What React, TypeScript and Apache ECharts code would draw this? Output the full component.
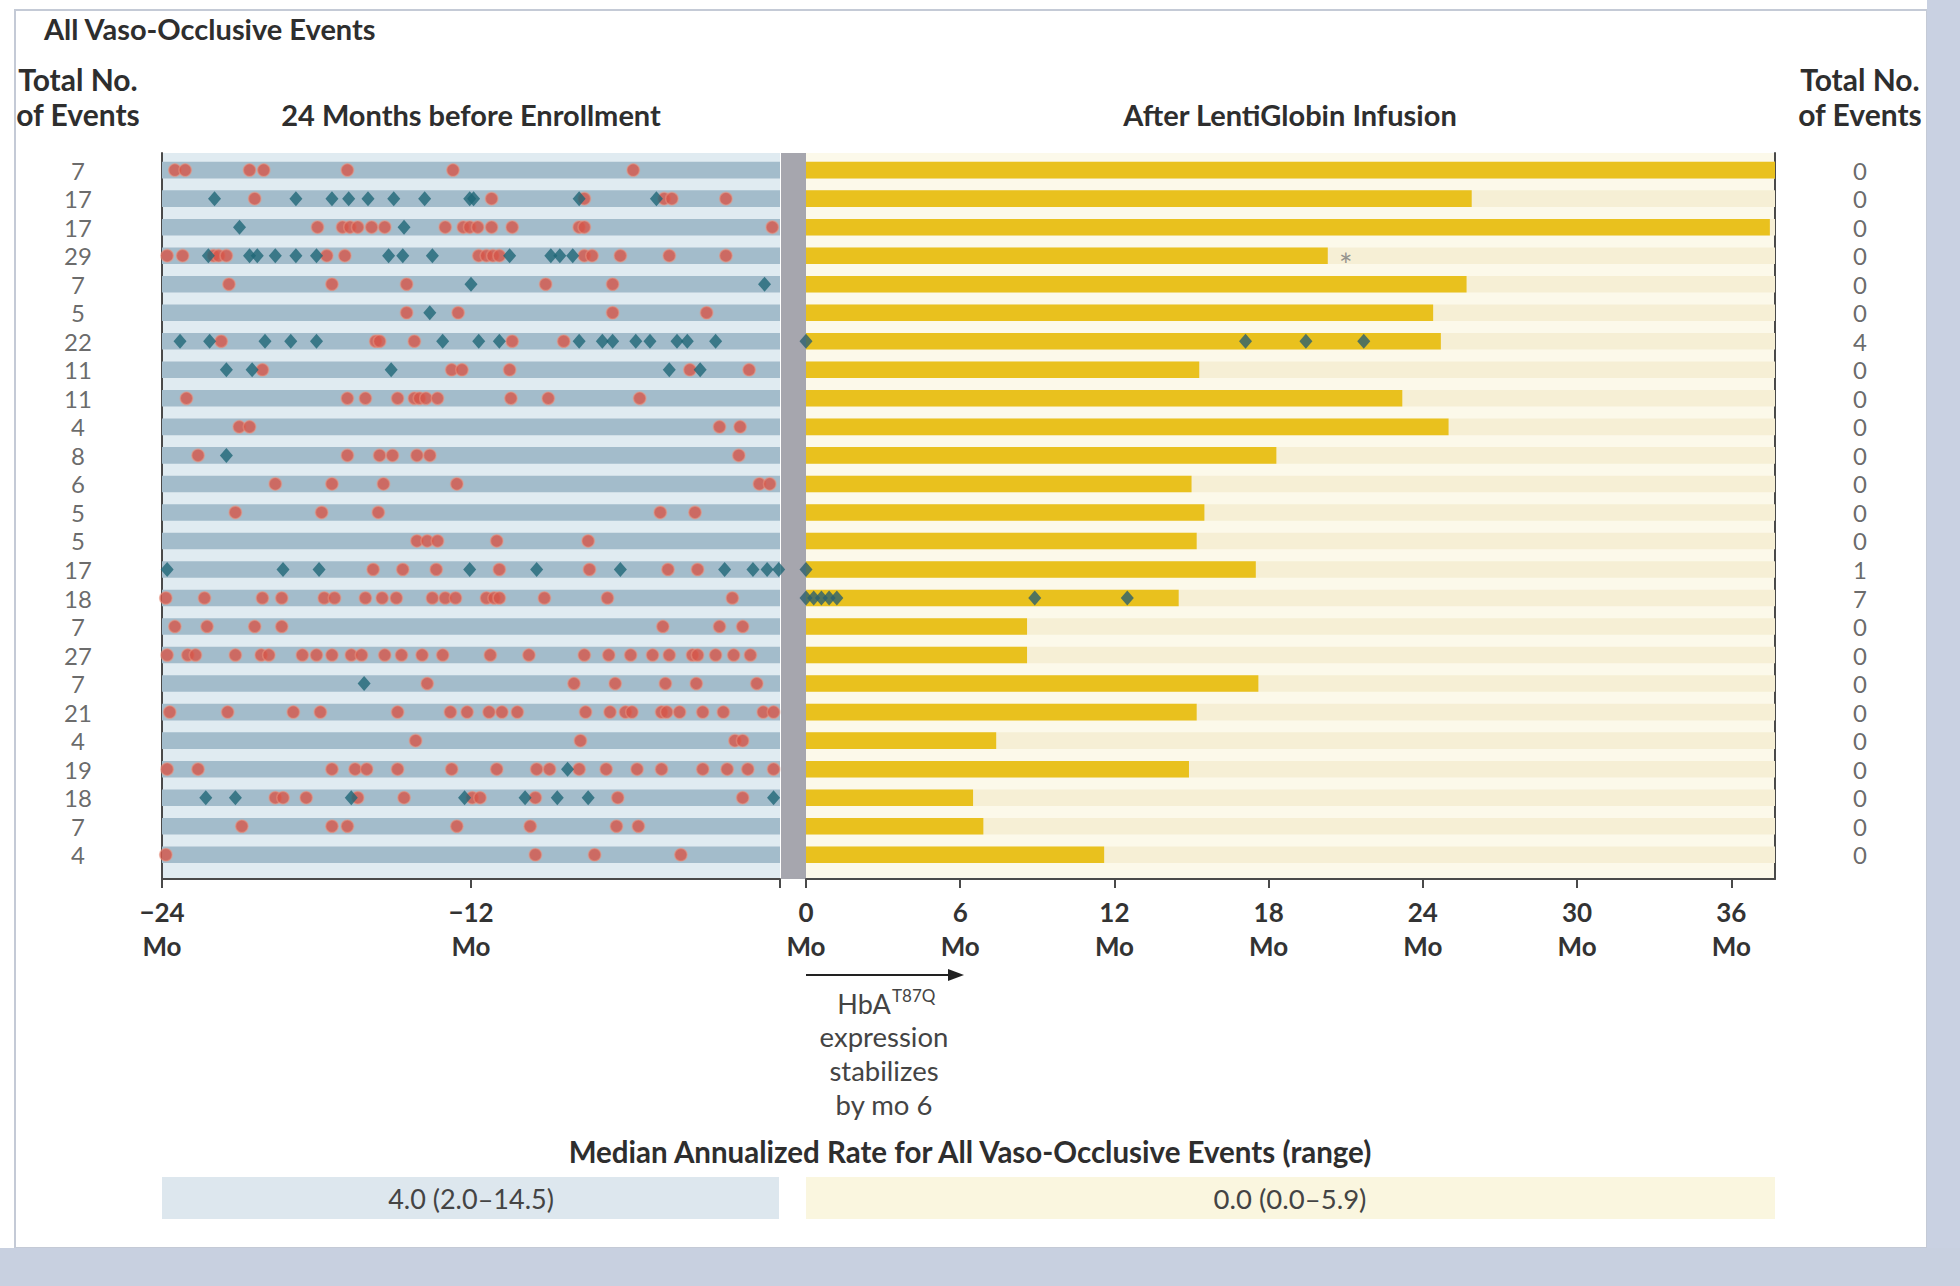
import React, { useEffect, useRef } from "react";
import * as echarts from "echarts";

// ---------- DATA ----------
const totalsBefore = [7, 17, 17, 29, 7, 5, 22, 11, 11, 4, 8, 6, 5, 5, 17, 18, 7, 27, 7, 21, 4, 19, 18, 7, 4];
const totalsAfter = [0, 0, 0, 0, 0, 0, 4, 0, 0, 0, 0, 0, 0, 0, 1, 7, 0, 0, 0, 0, 0, 0, 0, 0, 0];
// months of follow-up after LentiGlobin infusion (yellow bars)
const followUpMonths = [37.7, 25.9, 37.5, 20.3, 25.7, 24.4, 24.7, 15.3, 23.2, 25.0, 18.3, 15.0, 15.5, 15.2, 17.5, 14.5, 8.6, 8.6, 17.6, 15.2, 7.4, 14.9, 6.5, 6.9, 11.6];
// red circles: vaso-occlusive events in the 24 months before enrollment (months)
const redBefore: number[][] = [
  [-23.5, -23.1, -20.6, -20.05, -16.8, -12.7, -5.7],
  [-20.4, -11.2, -7.6, -4.5, -4.2, -2.1],
  [-17.96, -16.99, -16.7, -16.4, -15.86, -15.35, -13.0, -12.3, -12.05, -11.74, -11.2, -10.4, -7.8, -7.6, -0.3],
  [-23.8, -23.2, -22.0, -21.8, -21.5, -17.6, -16.9, -11.7, -11.4, -11.15, -10.9, -7.6, -7.3, -6.2, -4.3, -2.1],
  [-21.4, -17.4, -14.5, -9.1, -6.5],
  [-14.5, -12.5, -6.5, -2.85],
  [-21.7, -15.7, -15.55, -14.2, -10.4, -8.4],
  [-20.1, -12.75, -12.35, -10.5, -3.5, -1.2],
  [-23.05, -16.8, -16.1, -14.85, -14.2, -14.0, -13.75, -13.3, -10.45, -9.0, -5.45],
  [-21.0, -20.6, -2.35, -1.55],
  [-22.6, -16.8, -15.55, -15.05, -14.1, -13.6, -1.6],
  [-19.6, -17.4, -15.4, -12.55, -0.8, -0.4],
  [-21.15, -17.8, -15.6, -4.65, -3.3],
  [-14.1, -13.7, -13.3, -11.0, -7.45],
  [-15.8, -14.65, -13.35, -10.9, -7.4, -4.35, -3.2],
  [-23.85, -22.35, -20.1, -19.35, -17.7, -17.3, -16.1, -15.45, -14.9, -13.5, -13.0, -12.6, -11.4, -11.1, -10.9, -9.15, -6.7, -1.85],
  [-23.5, -22.25, -20.4, -19.35, -4.55, -2.35, -1.45],
  [-23.8, -23.0, -22.7, -21.15, -20.15, -19.85, -18.55, -18.0, -17.4, -16.65, -16.25, -15.35, -14.7, -13.9, -13.1, -11.25, -9.75, -7.6, -6.65, -5.8, -4.95, -4.3, -3.4, -3.2, -2.5, -1.8, -1.15],
  [-13.7, -8.0, -6.4, -4.45, -3.25, -0.9],
  [-23.7, -21.45, -18.9, -17.85, -14.85, -12.8, -12.15, -11.3, -10.8, -10.2, -7.55, -6.6, -6.0, -5.75, -4.6, -4.4, -3.9, -3.0, -2.2, -0.65, -0.25],
  [-14.15, -7.75, -1.75, -1.45],
  [-23.8, -22.6, -17.4, -16.5, -16.05, -14.85, -12.75, -11.0, -9.45, -8.95, -7.8, -6.75, -5.55, -4.6, -3.0, -2.05, -1.25, -0.25],
  [-19.6, -19.3, -18.4, -16.4, -14.6, -11.95, -11.65, -9.5, -6.3, -1.45],
  [-20.9, -17.4, -16.8, -12.55, -9.7, -6.35, -5.5],
  [-23.85, -9.5, -7.2, -3.85],
];
// teal diamonds before enrollment (months)
const tealBefore: number[][] = [
  [],
  [-21.96, -18.8, -17.4, -16.75, -16.0, -15.0, -13.8, -12.05, -11.9, -7.8, -4.8],
  [-20.99, -14.6],
  [-22.2, -20.6, -20.3, -19.6, -18.8, -18.0, -15.2, -14.65, -13.5, -10.5, -8.9, -8.55, -8.05],
  [-12.0, -0.6],
  [-13.6],
  [-23.3, -22.15, -20.0, -19.0, -18.0, -13.1, -11.7, -10.9, -7.8, -6.9, -6.5, -5.6, -5.05, -4.0, -3.6, -2.5],
  [-21.5, -20.5, -15.1, -4.3, -3.1],
  [],
  [],
  [-21.5],
  [],
  [],
  [],
  [-23.8, -19.3, -17.9, -12.05, -9.45, -6.2, -2.15, -1.05, -0.5, -0.05],
  [],
  [],
  [],
  [-16.15],
  [],
  [],
  [-8.25],
  [-22.3, -21.15, -16.65, -12.25, -9.9, -8.65, -7.45, -0.25],
  [],
  [],
];
// teal diamonds after infusion (months)
const tealAfter: number[][] = [
  [], [], [], [], [], [],
  [0, 17.1, 19.45, 21.7],
  [], [], [], [], [], [], [],
  [0],
  [0, 0.3, 0.6, 0.9, 1.2, 8.9, 12.5],
  [], [], [], [], [], [], [], [], [],
];
const asteriskRow = 3;
const beforeTicks = [-24, -12, 0];
const beforeLabels = [-24, -12];
const afterTicks = [0, 6, 12, 18, 24, 30, 36];
const afterMax = 37.7;
const leftSummary = "4.0 (2.0\u201314.5)";
const rightSummary = "0.0 (0.0\u20135.9)";

// ---------- STYLE ----------
const FONT = 'Lato, "Open Sans", sans-serif';
const BAND = 0.29;
const N = totalsBefore.length;
const Y_MIN = -0.6;
const Y_MAX = 24.85;
const GRID_TOP = 153;
const GRID_H = 726;

const MINUS = "\u2212";

function bandSeries(name: string, data: number[][], xi: number, color: string, z: number) {
  return {
    type: "custom",
    name,
    xAxisIndex: xi,
    yAxisIndex: xi,
    z,
    silent: true,
    encode: { x: [0, 2], y: 1 },
    data,
    renderItem: (_p: any, api: any) => {
      const row = api.value(1);
      const a = api.coord([api.value(0), row - BAND]);
      const b = api.coord([api.value(2), row + BAND]);
      return {
        type: "rect",
        shape: { x: a[0], y: a[1], width: b[0] - a[0], height: b[1] - a[1] },
        style: { fill: color },
      };
    },
  };
}

const flat = (lists: number[][]) => lists.flatMap((arr, row) => arr.map((m) => [m, row]));

export default function App() {
  const ref = useRef<HTMLDivElement>(null);
  useEffect(() => {
    if (!ref.current) return;
    const chart = echarts.init(ref.current, null, { renderer: "svg" });
    const rows = Array.from({ length: N }, (_, i) => i);
    const yAxis = (gi: number, show: boolean, pos: string) => ({
      type: "value",
      gridIndex: gi,
      min: Y_MIN,
      max: Y_MAX,
      inverse: true,
      position: pos,
      show,
      axisLine: { show, onZero: false, lineStyle: { color: "#4a4a4a", width: 2 } },
      axisTick: { show: false },
      axisLabel: { show: false },
      splitLine: { show: false },
    });
    const axisLabelStyle = {
      fontFamily: FONT,
      fontSize: 26,
      fontWeight: "bold",
      color: "#333",
      lineHeight: 34,
      margin: 16,
    };
    const option: any = {
      animation: false,
      backgroundColor: "#ffffff",
      grid: [
        { left: 162, top: GRID_TOP, width: 618, height: GRID_H, show: true, backgroundColor: "#e0ebf1", borderWidth: 0 },
        { left: 806, top: GRID_TOP, width: 969, height: GRID_H, show: true, backgroundColor: "#fcf9ea", borderWidth: 0 },
        { left: 20, top: GRID_TOP, width: 116, height: GRID_H },
        { left: 1800, top: GRID_TOP, width: 120, height: GRID_H },
      ],
      xAxis: [
        {
          type: "value", gridIndex: 0, min: -24, max: 0, interval: 12, position: "bottom",
          axisLine: { onZero: false, lineStyle: { color: "#4a4a4a", width: 2 } },
          axisTick: { show: true, length: 9, lineStyle: { color: "#4a4a4a", width: 2 }, customValues: beforeTicks },
          axisLabel: { ...axisLabelStyle, customValues: beforeLabels, formatter: (v: number) => `${v < 0 ? MINUS : ""}${Math.abs(v)}\nMo` },
          splitLine: { show: false },
        },
        {
          type: "value", gridIndex: 1, min: 0, max: afterMax, interval: 6, position: "bottom",
          axisLine: { onZero: false, lineStyle: { color: "#4a4a4a", width: 2 } },
          axisTick: { show: true, length: 9, lineStyle: { color: "#4a4a4a", width: 2 }, customValues: afterTicks },
          axisLabel: { ...axisLabelStyle, customValues: afterTicks, formatter: (v: number) => `${v}\nMo` },
          splitLine: { show: false },
        },
        { type: "value", gridIndex: 2, min: 0, max: 1, show: false },
        { type: "value", gridIndex: 3, min: 0, max: 1, show: false },
      ],
      yAxis: [yAxis(0, true, "left"), yAxis(1, true, "right"), yAxis(2, false, "left"), yAxis(3, false, "left")],
      series: [
        bandSeries("before-rows", rows.map((i) => [-24, i, 0]), 0, "#a3bccb", 1),
        bandSeries("after-rows", rows.map((i) => [0, i, afterMax]), 1, "#f6efd5", 1),
        bandSeries("follow-up", rows.map((i) => [0, i, followUpMonths[i]]), 1, "#e9c11e", 2),
        {
          type: "scatter", name: "VOC before", xAxisIndex: 0, yAxisIndex: 0, clip: false, z: 4,
          symbol: "circle", symbolSize: 12.5,
          itemStyle: { color: "#d65548", borderColor: "rgba(232,150,130,0.65)", borderWidth: 1.5 },
          data: flat(redBefore),
        },
        {
          type: "scatter", name: "ACS before", xAxisIndex: 0, yAxisIndex: 0, clip: false, z: 5,
          symbol: "diamond", symbolSize: [13, 15],
          itemStyle: { color: "#1f6777" },
          data: flat(tealBefore),
        },
        {
          type: "scatter", name: "ACS after", xAxisIndex: 1, yAxisIndex: 1, clip: false, z: 5,
          symbol: "diamond", symbolSize: [13, 15],
          itemStyle: { color: "#2b5f6e" },
          data: flat(tealAfter),
        },
        {
          type: "scatter", name: "asterisk", xAxisIndex: 1, yAxisIndex: 1, clip: false, z: 5,
          symbolSize: 1, itemStyle: { color: "rgba(0,0,0,0)" },
          label: { show: true, position: "inside", formatter: "*", fontFamily: FONT, fontSize: 32, color: "#7a7a7a", offset: [0, 9] },
          data: [[followUpMonths[asteriskRow] + 0.7, asteriskRow]],
        },
        {
          type: "scatter", name: "totals before", xAxisIndex: 2, yAxisIndex: 2, z: 5,
          symbolSize: 1, itemStyle: { color: "rgba(0,0,0,0)" },
          label: { show: true, position: "inside", formatter: (p: any) => String(p.data[2]), fontFamily: FONT, fontSize: 24, color: "#444" },
          data: totalsBefore.map((t, i) => [0.5, i, t]),
        },
        {
          type: "scatter", name: "totals after", xAxisIndex: 3, yAxisIndex: 3, z: 5,
          symbolSize: 1, itemStyle: { color: "rgba(0,0,0,0)" },
          label: { show: true, position: "inside", formatter: (p: any) => String(p.data[2]), fontFamily: FONT, fontSize: 24, color: "#444" },
          data: totalsAfter.map((t, i) => [0.5, i, t]),
        },
      ],
      graphic: [
        // window frame
        { type: "rect", z: -10, shape: { x: 15, y: 10, width: 1912, height: 1238 }, style: { fill: "#ffffff", stroke: "#c4cad6", lineWidth: 2 } },
        { type: "rect", z: -9, shape: { x: 1927, y: 0, width: 33, height: 1286 }, style: { fill: "#c9d1e2" } },
        { type: "rect", z: -9, shape: { x: 0, y: 1248, width: 1960, height: 38 }, style: { fill: "#c8d0e0" } },
        // gray divider between panels
        { type: "rect", z: 0, shape: { x: 781, y: GRID_TOP, width: 25, height: GRID_H }, style: { fill: "#a6a6ae" } },
        // titles
        { type: "text", x: 44, y: 28, style: { text: "All Vaso-Occlusive Events", fontFamily: FONT, fontSize: 29, fontWeight: "bold", fill: "#2e2e2e", verticalAlign: "middle" } },
        { type: "text", x: 78, y: 96, style: { text: "Total No.\nof Events", fontFamily: FONT, fontSize: 30, fontWeight: "bold", fill: "#2e2e2e", align: "center", verticalAlign: "middle", lineHeight: 35 } },
        { type: "text", x: 1860, y: 96, style: { text: "Total No.\nof Events", fontFamily: FONT, fontSize: 30, fontWeight: "bold", fill: "#2e2e2e", align: "center", verticalAlign: "middle", lineHeight: 35 } },
        { type: "text", x: 471, y: 114, style: { text: "24 Months before Enrollment", fontFamily: FONT, fontSize: 29, fontWeight: "bold", fill: "#2e2e2e", align: "center", verticalAlign: "middle" } },
        { type: "text", x: 1290, y: 114, style: { text: "After LentiGlobin Infusion", fontFamily: FONT, fontSize: 29, fontWeight: "bold", fill: "#2e2e2e", align: "center", verticalAlign: "middle" } },
        // arrow annotation
        { type: "line", shape: { x1: 806, y1: 975, x2: 950, y2: 975 }, style: { stroke: "#222", lineWidth: 2 } },
        { type: "polygon", shape: { points: [[948, 969], [964, 975], [948, 981]] }, style: { fill: "#222" } },
        { type: "text", x: 864, y: 1003, style: { text: "HbA", fontFamily: FONT, fontSize: 27, fill: "#444", align: "center", verticalAlign: "middle" } },
        { type: "text", x: 892, y: 995, style: { text: "T87Q", fontFamily: FONT, fontSize: 17, fill: "#444", align: "left", verticalAlign: "middle" } },
        { type: "text", x: 884, y: 1070, style: { text: "expression\nstabilizes\nby mo 6", fontFamily: FONT, fontSize: 27.5, fill: "#444", align: "center", verticalAlign: "middle", lineHeight: 34 } },
        // summary
        { type: "text", x: 970, y: 1151, style: { text: "Median Annualized Rate for All Vaso-Occlusive Events (range)", fontFamily: FONT, fontSize: 29.5, fontWeight: "bold", fill: "#2e2e2e", align: "center", verticalAlign: "middle" } },
        { type: "rect", shape: { x: 162, y: 1177, width: 617, height: 42 }, style: { fill: "#dde7ee" } },
        { type: "rect", shape: { x: 806, y: 1177, width: 969, height: 42 }, style: { fill: "#faf6df" } },
        { type: "text", x: 471, y: 1198, style: { text: leftSummary, fontFamily: FONT, fontSize: 27, fill: "#444", align: "center", verticalAlign: "middle" } },
        { type: "text", x: 1290, y: 1198, style: { text: rightSummary, fontFamily: FONT, fontSize: 27.5, fill: "#444", align: "center", verticalAlign: "middle" } },
      ],
    };
    chart.setOption(option);
    return () => chart.dispose();
  }, []);
  return <div ref={ref} style={{ position: "absolute", left: 0, top: 0, width: 1960, height: 1286 }} />;
}
